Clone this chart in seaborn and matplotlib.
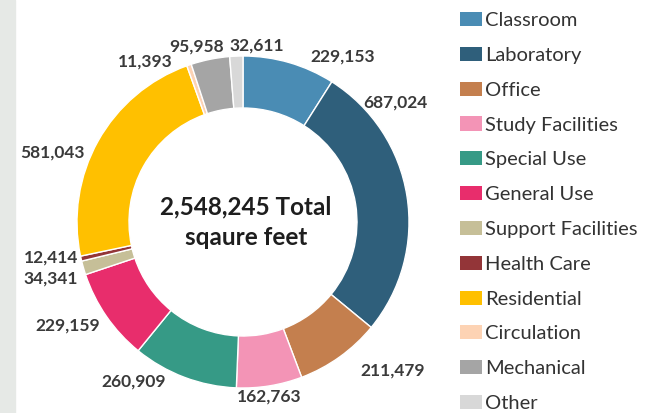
import matplotlib
matplotlib.use("Agg")
import matplotlib.pyplot as plt
import seaborn as sns

# space by category (square feet)
categories = ['Classroom', 'Laboratory', 'Office', 'Study Facilities', 'Special Use',
              'General Use', 'Support Facilities', 'Health Care', 'Residential',
              'Circulation', 'Mechanical', 'Other']
sq_feet = [229153, 687024, 211479, 162763, 260909, 229159, 34341, 12414,
           581043, 11393, 95958, 32611]
value_labels = ['229,153', '687,024', '211,479', '162,763', '260,909', '229,159',
                '34,341', '12,414', '581,043', '11,393', '95,958', '32,611']
total_text = '2,548,245 Total\nsqaure feet'

colors = ['#4a8cb4', '#2f5f7b', '#c47f4e', '#f394b6', '#369a86', '#e82d6c',
          '#c6bf98', '#933538', '#ffc000', '#fdd3b4', '#a5a5a5', '#d8d8d8']

# label spots in picture pixels (x, y from top)
label_xy = [(343, 57), (395, 103), (393, 371), (269, 397), (134, 382), (68, 326),
            (51, 279), (51, 258), (52, 153), (145, 62), (197, 47), (257, 46)]

sns.set_theme(style='white')
plt.rcParams['font.family'] = ['Lato', 'DejaVu Sans']

W, H = 660, 413
fig = plt.figure(figsize=(6.6, 4.13), dpi=100)
ax = fig.add_axes([0, 0, 1, 1])

# faint textured strip on the left edge of the source image
ax.axvspan(0, 15, color='#e6e9e6', zorder=0)

wedges, _ = ax.pie(sq_feet, colors=colors, startangle=90, counterclock=False,
                   center=(243, H - 222), radius=166,
                   wedgeprops=dict(width=52, edgecolor='white', linewidth=1.0))

for lab, (x, y) in zip(value_labels, label_xy):
    ax.text(x, H - y, lab, ha='center', va='center', fontsize=12.5,
            fontweight='bold', color='#3a3a3a')

ax.text(246, H - 222, total_text, ha='center', va='center', fontsize=17.5,
        fontweight='bold', color='#1e1e1e', linespacing=1.4)

ax.set_xlim(0, W)
ax.set_ylim(0, H)
ax.set_aspect('equal')
ax.axis('off')

leg = fig.legend(wedges, categories, loc='upper left', bbox_to_anchor=(460 / W, 1 - 12 / H),
                 frameon=False, fontsize=14.5, handlelength=1.09, handleheight=0.7,
                 handletextpad=0.15, labelspacing=0.88, borderaxespad=0.0,
                 borderpad=0.0)
for t in leg.get_texts():
    t.set_color('#333333')
for h in leg.legend_handles:
    h.set_edgecolor('none')

fig.savefig('out.png', dpi=100)
